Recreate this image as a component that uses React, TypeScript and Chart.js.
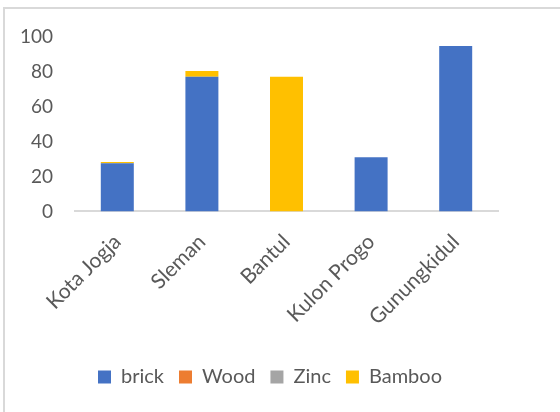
import React, { useEffect, useRef } from "react";
import { Chart, registerables } from "chart.js";

Chart.register(...registerables);

const categories = ["Kota Jogja", "Sleman", "Bantul", "Kulon Progo", "Gunungkidul"];
const brick = [27.5, 77, 0, 31, 94.5];
const wood = [0, 0, 0, 0, 0];
const zinc = [0, 0, 0, 0, 0];
const bamboo = [0.7, 3.3, 77, 0, 0];
const yTicks = [0, 20, 40, 60, 80, 100];

const FONT = "Lato, 'Open Sans', sans-serif";

const legendShift = {
  id: "legendShift",
  afterLayout(chart: any) {
    const l = chart.legend;
    if (l) {
      l.left += 21;
      l.right += 21;
    }
  },
};

export default function App() {
  const ref = useRef<HTMLCanvasElement | null>(null);

  useEffect(() => {
    if (!ref.current) return;
    const mk = (label: string, data: number[], color: string) => ({
      label,
      data,
      backgroundColor: color,
      borderWidth: 0,
      barPercentage: 0.39,
      categoryPercentage: 1,
    });
    const chart = new Chart(ref.current, {
      type: "bar",
      data: {
        labels: categories,
        datasets: [
          mk("brick", brick, "#4472C4"),
          mk("Wood", wood, "#ED7D31"),
          mk("Zinc", zinc, "#A5A5A5"),
          mk("Bamboo", bamboo, "#FFC000"),
        ],
      },
      plugins: [legendShift],
      options: {
        animation: false,
        responsive: false,
        layout: { padding: { top: 36.5, right: 62, left: 0, bottom: 15 } },
        plugins: {
          tooltip: { enabled: false },
          legend: {
            position: "bottom",
            labels: {
              boxWidth: 13,
              boxHeight: 13,
              color: "#595959",
              font: { family: FONT, size: 20 },
              padding: 15,
            },
          },
        },
        scales: {
          x: {
            stacked: true,
            grid: { display: false },
            border: { color: "#d9d9d9", width: 2 },
            afterFit: (axis: any) => {
              axis.height += 12;
            },
            ticks: {
              color: "#595959",
              font: { family: FONT, size: 21 },
              maxRotation: 45,
              minRotation: 45,
              padding: 10,
            },
          },
          y: {
            stacked: true,
            min: 0,
            max: 100,
            afterBuildTicks: (axis: any) => {
              axis.ticks = yTicks.map((v) => ({ value: v }));
            },
            afterFit: (axis: any) => {
              axis.width = 75;
            },
            grid: { display: false },
            border: { display: false },
            ticks: {
              color: "#595959",
              font: { family: FONT, size: 19 },
              padding: 14,
            },
          },
        },
      },
    });
    return () => chart.destroy();
  }, []);

  return (
    <div
      style={{
        position: "fixed",
        left: 0,
        top: 0,
        width: 560,
        height: 412,
        overflow: "hidden",
        background: "#fff",
      }}
    >
      <div
        style={{
          position: "absolute",
          left: 3,
          top: 7,
          width: 700,
          height: 600,
          borderLeft: "2px solid #d9d9d9",
          borderTop: "2px solid #d9d9d9",
        }}
      />
      <canvas
        ref={ref}
        width={560}
        height={412}
        style={{ position: "absolute", left: 0, top: 0 }}
      />
    </div>
  );
}
